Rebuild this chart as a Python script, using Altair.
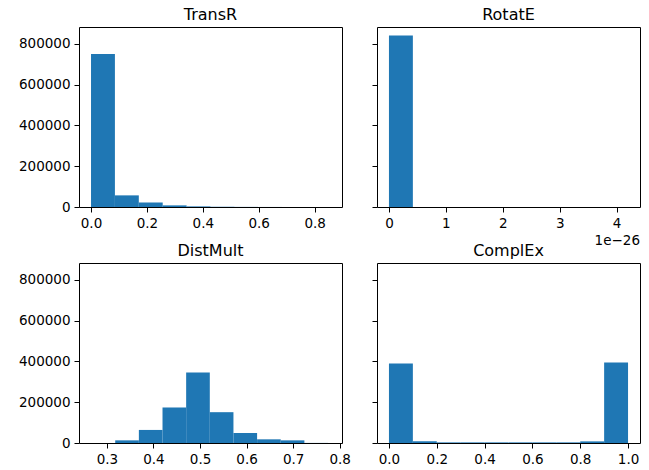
import altair as alt
import pandas as pd

# ---- data ----
transr_edges = [0.0, 0.0855, 0.171, 0.2565, 0.342, 0.4275, 0.513, 0.5985, 0.684, 0.7695, 0.855]
transr_counts = [750000, 57000, 22000, 8000, 3000, 1200, 500, 200, 100, 40]

# RotatE values in units of 1e-26
rotate_edges = [0.0, 0.42, 0.84, 1.26, 1.68, 2.1, 2.52, 2.94, 3.36, 3.78, 4.2]
rotate_counts = [840000, 0, 0, 0, 0, 0, 0, 0, 0, 1]

distmult_edges = [0.267, 0.3178, 0.3686, 0.4194, 0.4702, 0.521, 0.5718, 0.6226, 0.6734, 0.7242, 0.775]
distmult_counts = [600, 13000, 64000, 174000, 345000, 151000, 49000, 18000, 13000, 400]

complex_edges = [0.0, 0.1, 0.2, 0.3, 0.4, 0.5, 0.6, 0.7, 0.8, 0.9, 1.0]
complex_counts = [389000, 8000, 3000, 3000, 3000, 3000, 3000, 3000, 8000, 394000]

y_ticks = [0, 200000, 400000, 600000, 800000]

BLUE = "#1f77b4"
FONT = "DejaVu Sans"
W, H = 263, 180
YMAX = 882000


def frame(edges, counts):
    return pd.DataFrame({
        "start": edges[:-1],
        "end": edges[1:],
        "count": counts,
    })


def panel(name, edges, counts, xdomain, xticks, xfmt, ylabels):
    df = frame(edges, counts)
    base = alt.Chart(df).mark_rect(color=BLUE).encode(
        x=alt.X("start:Q",
                scale=alt.Scale(domain=xdomain, nice=False, zero=False),
                axis=alt.Axis(values=xticks, format=xfmt, title=None)),
        x2="end:Q",
        y=alt.Y("count:Q",
                scale=alt.Scale(domain=[0, YMAX], nice=False),
                axis=alt.Axis(values=y_ticks, format="d", title=None,
                              labels=ylabels)),
        y2=alt.datum(0),
    )
    return base.properties(
        width=W, height=H,
        title=alt.TitleParams(text=name, fontSize=16, font=FONT,
                              fontWeight="normal", color="black",
                              frame="group", baseline="middle", offset=-4),
    )


p1 = panel("TransR", transr_edges, transr_counts, [-0.043, 0.898],
           [0, 0.2, 0.4, 0.6, 0.8], ".1f", True)
p2 = panel("RotatE", rotate_edges, rotate_counts, [-0.21, 4.41],
           [0, 1, 2, 3, 4], "d", False)
exp_label = alt.Chart(pd.DataFrame({"t": ["1e\u221226"]})).mark_text(
    align="right", baseline="middle", fontSize=13.5, font=FONT, color="black"
).encode(text="t:N", x=alt.value(W), y=alt.value(H + 34))
p2 = alt.layer(p2, exp_label)

p3 = panel("DistMult", distmult_edges, distmult_counts, [0.24, 0.805],
           [0.3, 0.4, 0.5, 0.6, 0.7, 0.8], ".1f", True)
p4 = panel("ComplEx", complex_edges, complex_counts, [-0.05, 1.05],
           [0, 0.2, 0.4, 0.6, 0.8, 1.0], ".1f", False)

chart = alt.concat(
    p1, p2, p3, p4, columns=2,
    spacing={"row": 56, "column": 35},
    bounds="flush",
).properties(
    padding={"left": 17, "top": 6, "right": 5, "bottom": 5},
    background="white",
).configure_view(
    stroke="black", strokeWidth=1
).configure_axis(
    grid=False, domain=False,
    tickColor="black", tickSize=5, tickWidth=1,
    labelColor="black", labelFont=FONT, labelFontSize=13.5,
    labelPadding=4,
).configure_axisX(
    labelFlush=False,
).configure_axisY(
    labelFlush=False,
)

chart.save("out.html", embed_options={"renderer": "svg", "actions": False})
